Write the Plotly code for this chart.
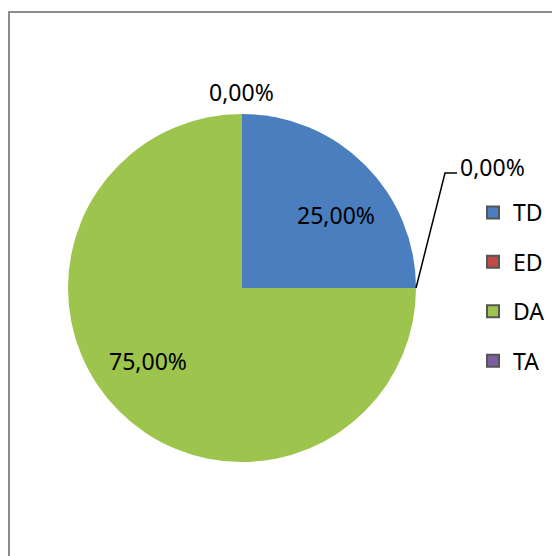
import math
import plotly.graph_objects as go

categories = ["TD", "ED", "DA", "TA"]
values = [25.0, 0.0, 75.0, 0.0]
colors = ["#4a7ebf", "#be4b48", "#9dc44c", "#7d5fa0"]

W, H = 560, 556
OFF = 8  # page body margin offset of the figure div
cx, cy, R = 242, 288, 174
FONT = "Noto Sans"
FS = 23


def fx(x):
    return (x - OFF) / W


def fy(y):
    return 1 - (y - OFF) / H


fig = go.Figure()
fig.add_trace(go.Pie(
    labels=categories, values=values, sort=False, direction="clockwise",
    rotation=0, marker=dict(colors=colors, line=dict(width=0)),
    textinfo="none",
    showlegend=False, hoverinfo="label+percent",
    domain=dict(x=[fx(cx - R), fx(cx + R)], y=[fy(cy + R), fy(cy - R)]),
))

# legend via dummy traces
for c, col in zip(categories, colors):
    fig.add_trace(go.Scatter(
        x=[None], y=[None], mode="markers", name=c, legendgroup=c,
        marker=dict(symbol="square", size=16, color=col,
                    line=dict(width=1, color="#555555")),
    ))

# data labels
total = sum(values)
cum = 0.0
annotations = []
shapes = []
for c, v in zip(categories, values):
    start = cum / total
    cum += v
    txt = f"{v / total * 100:.2f}%".replace(".", ",")
    if v > 0:
        mid = 2 * math.pi * (start + v / total / 2) + math.radians(7)
        lx = cx + 0.684 * R * math.sin(mid)
        ly = cy - 0.684 * R * math.cos(mid)
        annotations.append(dict(x=fx(lx), y=fy(ly), xref="paper", yref="paper",
                                text=txt, showarrow=False, xanchor="center",
                                yanchor="middle",
                                font=dict(family=FONT, size=FS, color="black")))
        continue
    ang = 2 * math.pi * start
    ex = cx + R * math.sin(ang)
    ey = cy - R * math.cos(ang)
    if abs(math.sin(ang)) < 0.5:
        annotations.append(dict(x=fx(ex), y=fy(ey - 22), xref="paper", yref="paper",
                                text=txt, showarrow=False, xanchor="center",
                                yanchor="middle",
                                font=dict(family=FONT, size=FS, color="black")))
    else:
        bx, by = ex + 29, ey - 115
        hx = bx + 12
        shapes.append(dict(type="path", xref="paper", yref="paper",
                           path=f"M {fx(ex)} {fy(ey)} L {fx(bx)} {fy(by)} L {fx(hx)} {fy(by)}",
                           line=dict(color="black", width=1.5)))
        annotations.append(dict(x=fx(hx + 1), y=fy(by - 6), xref="paper", yref="paper",
                                text=txt, showarrow=False, xanchor="left",
                                yanchor="middle",
                                font=dict(family=FONT, size=FS, color="black")))

# chart frame
shapes.append(dict(type="rect", xref="paper", yref="paper",
                   x0=fx(9), x1=fx(W + 30), y0=fy(H + 30), y1=fy(12),
                   line=dict(color="#8c8c8c", width=2), fillcolor="rgba(0,0,0,0)"))

fig.update_layout(
    width=W, height=H, margin=dict(l=0, r=0, t=0, b=0),
    paper_bgcolor="white", plot_bgcolor="white",
    xaxis=dict(visible=False), yaxis=dict(visible=False),
    showlegend=True,
    legend=dict(x=fx(473), y=fy(191), xanchor="left", yanchor="top",
                font=dict(family=FONT, size=FS, color="black"),
                tracegroupgap=16.5, bgcolor="rgba(0,0,0,0)", itemsizing="constant"),
    annotations=annotations, shapes=shapes,
)

fig.write_html("out.html")
